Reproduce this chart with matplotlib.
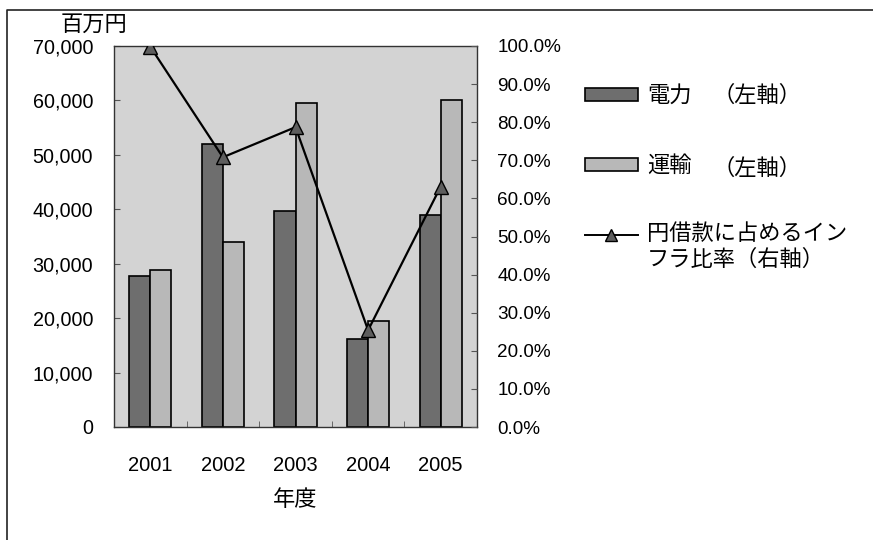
"""Power / transport yen-loan amounts with infrastructure share (twin axis)."""
import numpy as np
import matplotlib
matplotlib.use("Agg")
import matplotlib.pyplot as plt
from matplotlib.patches import Rectangle
from matplotlib.lines import Line2D
from matplotlib.ticker import FuncFormatter

JP = ["Noto Sans CJK JP", "DejaVu Sans"]
NUM = ["Liberation Sans", "DejaVu Sans"]

years = ["2001", "2002", "2003", "2004", "2005"]
power = [27700, 52000, 39600, 16200, 39000]        # 電力 (百万円)
transport = [28800, 34000, 59500, 19400, 60000]    # 運輸 (百万円)
infra_ratio = [99.8, 70.8, 78.7, 25.4, 63.1]       # インフラ比率 (%)

DARK, LIGHT, BGPLOT = "#6e6e6e", "#b8b8b8", "#d3d3d3"

fig = plt.figure(figsize=(8.73, 5.40), dpi=100)
ax = fig.add_axes([114 / 873, 113 / 540, 363 / 873, 381 / 540])
ax.set_facecolor(BGPLOT)

x = np.arange(len(years))
w = 0.29
ax.bar(x - w / 2, power, w, color=DARK, edgecolor="black", lw=1.2, zorder=2)
ax.bar(x + w / 2, transport, w, color=LIGHT, edgecolor="black", lw=1.2, zorder=2)
ax.set_xlim(-0.5, len(years) - 0.5)
ax.set_ylim(0, 70000)
ax.set_yticks(np.arange(0, 70001, 10000))
ax.yaxis.set_major_formatter(FuncFormatter(lambda v, p: f"{v:,.0f}"))
ax.set_xticks(x)
ax.set_xticklabels(years)
ax.set_xticks(np.arange(0.5, len(years) - 1, 1), minor=True)
ax.tick_params(axis="x", which="major", length=0, pad=21, labelsize=14.5)
ax.tick_params(axis="x", which="minor", direction="in", length=4, color="#555")
ax.tick_params(axis="y", direction="in", length=4, color="#555", pad=15,
               labelsize=14.2)
for lab in ax.get_xticklabels() + ax.get_yticklabels():
    lab.set_family(NUM)
for s in ax.spines.values():
    s.set_color("#333")
    s.set_linewidth(1.0)

ax2 = ax.twinx()
ax2.plot(x, infra_ratio, color="black", lw=1.6, marker="^", ms=10,
         markerfacecolor="#5e5e5e", markeredgecolor="black", zorder=4)
ax2.set_ylim(0, 100)
ax2.set_yticks(np.arange(0, 101, 10))
ax2.yaxis.set_major_formatter(FuncFormatter(lambda v, p: f"{v:.1f}%"))
ax2.tick_params(axis="y", direction="in", length=4, color="#555", pad=14.5,
                labelsize=13.6)
for lab in ax2.get_yticklabels():
    lab.set_family(NUM)
for s in ax2.spines.values():
    s.set_visible(False)

fig.text(94 / 873, 1 - 24 / 540, "百万円", family=JP, fontsize=16,
         ha="center", va="center")
fig.text(295 / 873, 1 - 499 / 540, "年度", family=JP, fontsize=16,
         ha="center", va="center")

# legend, laid out by hand on the right
def fx(px):
    return px / 873

def fy(py):
    return 1 - py / 540

fig.patches.append(Rectangle((fx(585), fy(101)), 53 / 873, 13 / 540,
                             transform=fig.transFigure, facecolor=DARK,
                             edgecolor="black", lw=1.2))
fig.patches.append(Rectangle((fx(585), fy(171)), 53 / 873, 13 / 540,
                             transform=fig.transFigure, facecolor=LIGHT,
                             edgecolor="black", lw=1.2))
fig.lines.append(Line2D([fx(585), fx(638)], [fy(235), fy(235)],
                        transform=fig.transFigure, color="black", lw=1.4))
fig.lines.append(Line2D([fx(611)], [fy(235)], transform=fig.transFigure,
                        marker="^", ms=8, markerfacecolor="#5e5e5e",
                        markeredgecolor="black", lw=0))
fig.text(fx(647), fy(95), "電力", family=JP, fontsize=16, va="center")
fig.text(fx(712), fy(95), "（左軸）", family=JP, fontsize=16, va="center")
fig.text(fx(647), fy(165), "運輸", family=JP, fontsize=16, va="center")
fig.text(fx(712), fy(168), "（左軸）", family=JP, fontsize=16, va="center")
fig.text(fx(647), fy(233), "円借款に占めるイン", family=JP, fontsize=16,
         va="center")
fig.text(fx(647), fy(259), "フラ比率（右軸）", family=JP, fontsize=16,
         va="center")

# outer frame (left and top edges)
fig.lines.append(Line2D([fx(7), fx(7), fx(873)], [fy(540), fy(10), fy(10)],
                        transform=fig.transFigure, color="#222", lw=1.2))

fig.savefig("out.png", dpi=100)
